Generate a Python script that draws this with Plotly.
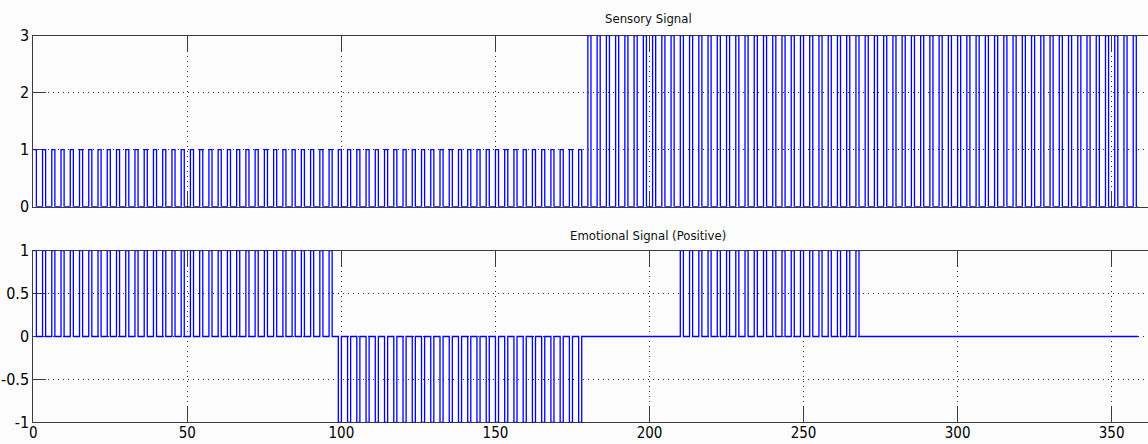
import plotly.graph_objects as go

# Pulse train timing (time units)
PERIOD = 3
PULSE_WIDTH = 1
T_END = 358.5

# Pulse levels as run-lengths: number of consecutive pulses and their level
sensory_run_counts = [60, 60]
sensory_run_levels = [1, 3]

emotional_run_counts = [33, 27, 10, 20, 30]
emotional_run_levels = [1, -1, 0, 1, 0]

x_tick_vals = [0, 50, 100, 150, 200, 250, 300, 350]
x_tick_text = ["0", "50", "100", "150", "200", "250", "300", "350"]
sensory_y_ticks = [0, 1, 2, 3]
sensory_y_text = ["0", "1", "2", "3"]
emotional_y_ticks = [-1, -0.5, 0, 0.5, 1]
emotional_y_text = ["-1", "-0.5", "0", "0.5", "1"]

titles = ["Sensory Signal", "Emotional Signal (Positive)"]


def pulse_train(counts, levels):
    """Build step-wise (hv) x/y points for a train of rectangular pulses."""
    xs, ys = [], []
    k = 0
    for n, lvl in zip(counts, levels):
        for _ in range(n):
            t0 = k * PERIOD
            xs += [t0, t0 + PULSE_WIDTH]
            ys += [lvl, 0]
            k += 1
    xs.append(T_END)
    ys.append(0)
    return xs, ys


W, H = 1148, 444
x_dom = [33.3 / W, 1.0]
x_range = [0, (W - 33.3) / 3.081]
top_dom = [1 - 206.7 / H, 1 - 35.7 / H]
bot_dom = [1 - 422.3 / H, 1 - 250.7 / H]

BLUE = "#0000ff"
AXC = "#3c3c3c"
GRID = "#2a2a2a"
FONT = "DejaVu Sans Condensed, Liberation Sans Narrow, Arial Narrow, sans-serif"

fig = go.Figure()

sx, sy = pulse_train(sensory_run_counts, sensory_run_levels)
ex, ey = pulse_train(emotional_run_counts, emotional_run_levels)

fig.add_trace(go.Scatter(x=sx, y=sy, mode="lines", line=dict(color=BLUE, width=1.3, shape="hv"),
                         xaxis="x", yaxis="y", hoverinfo="skip", showlegend=False))
fig.add_trace(go.Scatter(x=ex, y=ey, mode="lines", line=dict(color=BLUE, width=1.3, shape="hv"),
                         xaxis="x2", yaxis="y2", hoverinfo="skip", showlegend=False))

common_x = dict(
    domain=x_dom, range=x_range, tickmode="array", tickvals=x_tick_vals, ticktext=x_tick_text,
    ticks="inside", ticklen=16, tickwidth=1, tickcolor=AXC,
    showline=True, linecolor=AXC, linewidth=1, mirror="ticks",
    showgrid=True, gridcolor=GRID, gridwidth=1, griddash="1px,4px",
    zeroline=False, layer="below traces", fixedrange=True, automargin=False,
    tickfont=dict(family=FONT, size=15, color="#000000"),
)
common_y = dict(
    ticks="inside", ticklen=13, tickwidth=1, tickcolor=AXC,
    showline=True, linecolor=AXC, linewidth=1, mirror=False,
    showgrid=True, gridcolor=GRID, gridwidth=1, griddash="1px,4px",
    zeroline=False, layer="below traces", fixedrange=True, automargin=False,
    tickfont=dict(family=FONT, size=16, color="#000000"),
)
# right-hand tick marks only (no border line on that side)
right_y = dict(
    ticks="inside", ticklen=13, tickwidth=1, tickcolor=AXC, side="right",
    showline=False, showgrid=False, zeroline=False, showticklabels=False,
    fixedrange=True, automargin=False,
)

fig.update_layout(
    width=W, height=H,
    margin=dict(l=0, r=0, t=0, b=0, autoexpand=False),
    paper_bgcolor="#fcfcfc", plot_bgcolor="#fcfcfc",
    showlegend=False,
    xaxis=dict(common_x, anchor="y", showticklabels=False),
    yaxis=dict(common_y, domain=top_dom, range=[0, 3], tickvals=sensory_y_ticks,
               ticktext=sensory_y_text, anchor="x"),
    xaxis2=dict(common_x, anchor="y2", showticklabels=True, ticklabelstandoff=-3),
    yaxis2=dict(common_y, domain=bot_dom, range=[-1, 1], tickvals=emotional_y_ticks,
                ticktext=emotional_y_text, anchor="x2"),
    yaxis3=dict(right_y, overlaying="y", range=[0, 3], tickvals=sensory_y_ticks, anchor="x"),
    yaxis4=dict(right_y, overlaying="y2", range=[-1, 1], tickvals=emotional_y_ticks, anchor="x2"),
    annotations=[
        dict(text=titles[0], xref="paper", yref="paper", x=648 / W, y=1 - 18.5 / H,
             xanchor="center", yanchor="middle", showarrow=False,
             font=dict(family=FONT, size=13, color="#111111")),
        dict(text=titles[1], xref="paper", yref="paper", x=648 / W, y=1 - 235 / H,
             xanchor="center", yanchor="middle", showarrow=False,
             font=dict(family=FONT, size=13, color="#111111")),
    ],
)

fig.write_html("out.html")
